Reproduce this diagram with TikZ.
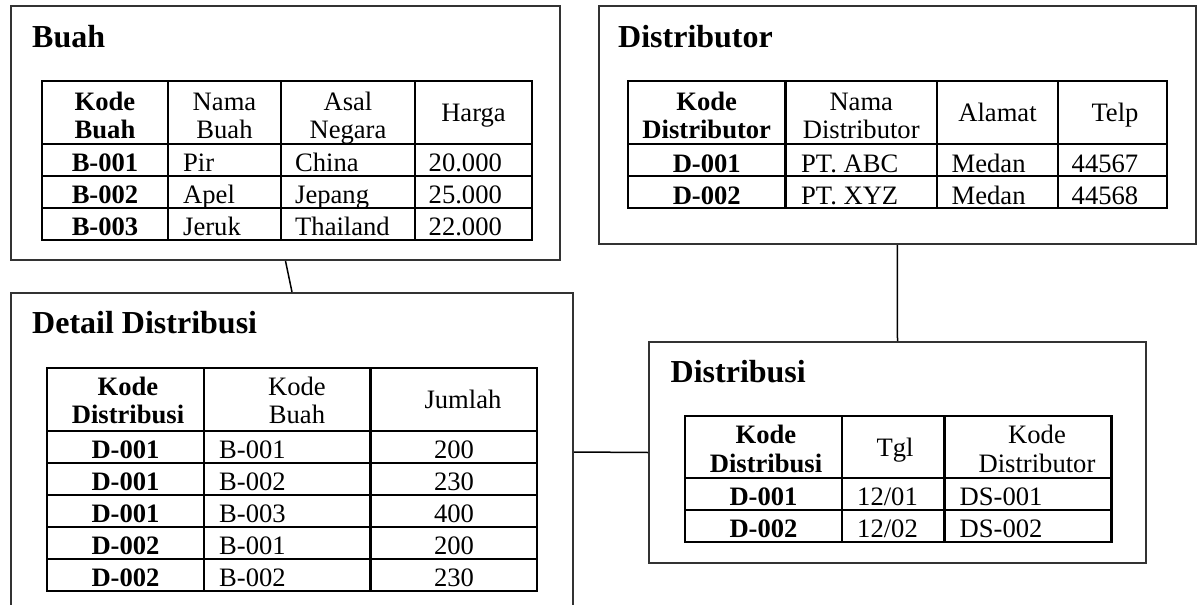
\documentclass[tikz,border=0pt]{standalone}
\usepackage{fontspec}
\setmainfont{Liberation Serif}
\usetikzlibrary{fit}
\tikzset{
  box/.style={draw=black!80, line width=2pt, inner sep=0pt},
  gridline/.style={line width=2.6pt},
  conn/.style={line width=1.5pt},
  ttl/.style={font=\fontsize{32}{34}\selectfont\bfseries, inner sep=0pt, anchor=base west},
  hb/.style={font=\fontsize{26.6}{28}\selectfont\bfseries, inner sep=0pt, anchor=base},
  hr/.style={font=\fontsize{26.6}{28}\selectfont, inner sep=0pt, anchor=base},
  lt/.style={font=\fontsize{26.6}{28}\selectfont, inner sep=0pt, anchor=base west},
}
\begin{document}
\begin{tikzpicture}[x=1pt,y=-1pt]
\useasboundingbox (0,0) rectangle (1203,605);
\clip (0,0) rectangle (1203,605);
\fill[white] (0,0) rectangle (1203,605);

% ---------- boxes ----------
\node[box, fit={(11,6) (560,260)}] (buah) {};
\node[box, fit={(598.5,6) (1196,244)}] (distributor) {};
\node[box, fit={(11,293) (573,611)}] (detail) {};
\node[box, fit={(649,342) (1146,563)}] (distribusi) {};

% ---------- connectors ----------
\draw[conn] (buah.south) -- (detail.north);
\draw[conn] (distributor.south) -- (distribusi.north);
\draw[conn] (detail.east) -- (distribusi.west);

% ---------- Buah ----------
\node[ttl] (tBuah) at (32,47) {Buah};
\draw[gridline] (42,81) rectangle (532,240);
\foreach \x in {168,281,415} \draw[gridline] (\x,81) -- (\x,240);
\foreach \y in {144,176,208} \draw[gridline] (42,\y) -- (532,\y);
\node[hb] (bh1a) at (105,110) {Kode};
\node[hb] (bh1b) at (105,138) {Buah};
\node[hr] (bh2a) at (224.5,110) {Nama};
\node[hr] (bh2b) at (224.5,138) {Buah};
\node[hr] (bh3a) at (348,110) {Asal};
\node[hr] (bh3b) at (348,138) {Negara};
\node[hr] (bh4) at (473.5,121) {Harga};
\node[hb] (b11) at (105,171) {B-001};
\node[hb] (b21) at (105,203) {B-002};
\node[hb] (b31) at (105,235) {B-003};
\node[lt] (b12) at (183,171) {Pir};
\node[lt] (b22) at (183,203) {Apel};
\node[lt] (b32) at (183,235) {Jeruk};
\node[lt] (b13) at (295,171) {China};
\node[lt] (b23) at (295,203) {Jepang};
\node[lt] (b33) at (295,235) {Thailand};
\node[lt] (b14) at (428.5,171) {20.000};
\node[lt] (b24) at (428.5,203) {25.000};
\node[lt] (b34) at (428.5,235) {22.000};

% ---------- Distributor ----------
\node[ttl] (tDistributor) at (618,47) {Distributor};
\draw[gridline] (628,81) rectangle (1167,208);
\foreach \x in {785.5,937,1058} \draw[gridline] (\x,81) -- (\x,208);
\foreach \y in {144,176} \draw[gridline] (628,\y) -- (1167,\y);
\node[hb] (dh1a) at (706.75,110) {Kode};
\node[hb] (dh1b) at (706.75,138) {Distributor};
\node[hr] (dh2a) at (861.25,110) {Nama};
\node[hr] (dh2b) at (861.25,138) {Distributor};
\node[hr] (dh3) at (997.5,121) {Alamat};
\node[hr] (dh4) at (1115,121) {Telp};
\node[hb] (d11) at (706.75,172) {D-001};
\node[hb] (d21) at (706.75,204) {D-002};
\node[lt] (d12) at (801,172) {PT. ABC};
\node[lt] (d22) at (801,204) {PT. XYZ};
\node[lt] (d13) at (951.5,172) {Medan};
\node[lt] (d23) at (951.5,204) {Medan};
\node[lt] (d14) at (1071.5,172) {44567};
\node[lt] (d24) at (1071.5,204) {44568};

% ---------- Detail Distribusi ----------
\node[ttl] (tDetail) at (32,333) {Detail Distribusi};
\draw[gridline] (47,368) rectangle (537,591);
\foreach \x in {204,370.5} \draw[gridline] (\x,368) -- (\x,591);
\foreach \y in {431,463,495,527,559} \draw[gridline] (47,\y) -- (537,\y);
\node[hb] (eh1a) at (128,395) {Kode};
\node[hb] (eh1b) at (128,423) {Distribusi};
\node[hr] (eh2a) at (297,395) {Kode};
\node[hr] (eh2b) at (297,423) {Buah};
\node[hr] (eh3) at (463,408) {Jumlah};
\node[hb] (e11) at (125.5,458) {D-001};
\node[hb] (e21) at (125.5,490) {D-001};
\node[hb] (e31) at (125.5,522) {D-001};
\node[hb] (e41) at (125.5,554) {D-002};
\node[hb] (e51) at (125.5,586) {D-002};
\node[lt] (e12) at (219,458) {B-001};
\node[lt] (e22) at (219,490) {B-002};
\node[lt] (e32) at (219,522) {B-003};
\node[lt] (e42) at (219,554) {B-001};
\node[lt] (e52) at (219,586) {B-002};
\node[hr] (e13) at (454,458) {200};
\node[hr] (e23) at (454,490) {230};
\node[hr] (e33) at (454,522) {400};
\node[hr] (e43) at (454,554) {200};
\node[hr] (e53) at (454,586) {230};

% ---------- Distribusi ----------
\node[ttl] (tDistribusi) at (670.5,382) {Distribusi};
\draw[gridline] (685,416) rectangle (1111.5,542);
\foreach \x in {842,944.5} \draw[gridline] (\x,416) -- (\x,542);
\foreach \y in {478,510} \draw[gridline] (685,\y) -- (1111.5,\y);
\node[hb] (ih1a) at (766,443) {Kode};
\node[hb] (ih1b) at (766,472) {Distribusi};
\node[hr] (ih2) at (895,456) {Tgl};
\node[hr] (ih3a) at (1037,443) {Kode};
\node[hr] (ih3b) at (1037,472) {Distributor};
\node[hb] (i11) at (763.5,505) {D-001};
\node[hb] (i21) at (763.5,537) {D-002};
\node[lt] (i12) at (857,505) {12/01};
\node[lt] (i22) at (857,537) {12/02};
\node[lt] (i13) at (959.5,505) {DS-001};
\node[lt] (i23) at (959.5,537) {DS-002};
\end{tikzpicture}
\end{document}
